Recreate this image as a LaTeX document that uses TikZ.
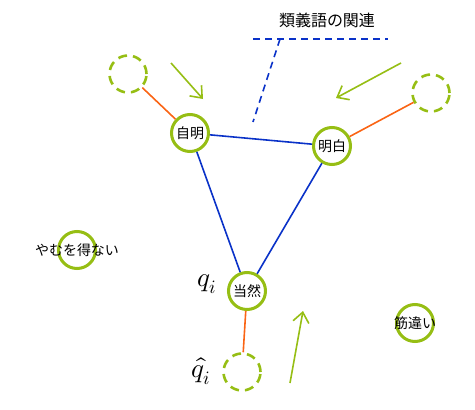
\documentclass[tikz,border=0pt]{standalone}
\usepackage{amsmath}
\usepackage{fontspec}
\usepackage{unicode-math}
\setmathfont{Latin Modern Math}
\newfontfamily\jpfont{Noto Sans CJK JP}
\usetikzlibrary{arrows.meta, positioning}

\definecolor{leaf}{RGB}{150,190,20}
\definecolor{synblue}{RGB}{10,50,200}
\definecolor{linkorange}{RGB}{250,100,20}

\begin{document}
\begin{tikzpicture}[
    x=1pt, y=-1pt,
    word/.style={circle, draw=leaf, line width=3pt, fill=white, minimum size=37pt, inner sep=0pt, font=\jpfont\fontsize{14}{16}\selectfont},
    ghost/.style={circle, draw=leaf, line width=2.6pt, dash pattern=on 9pt off 6pt, minimum size=37pt, inner sep=0pt},
    syn/.style={synblue, line width=1.6pt},
    link/.style={linkorange, line width=1.6pt},
    hint/.style={-{Straight Barb[length=10pt,width=16pt]}, leaf, line width=1.6pt},
    guide/.style={synblue, line width=1.6pt, dash pattern=on 7pt off 5pt},
    sym/.style={font=\fontsize{27}{30}\selectfont, inner sep=0pt}
]
\useasboundingbox (0,0) rectangle (475,410);

% 単語
\node[word] (jimei) at (190,133) {自明};
\node[word] (meihaku) at (332,146) {明白};
\node[word] (touzen) at (247,291) {当然};
\node[word, label={[font=\jpfont\fontsize{14}{16}\selectfont]center:やむを得ない}] (yamu) at (77,250) {};
\node[word, label={[font=\jpfont\fontsize{14}{16}\selectfont]center:筋違い}] (sujichigai) at (415,323) {};

% 推定位置
\node[ghost] (ghostA) at (128,74) {};
\node[ghost] (ghostB) at (431,93) {};
\node[ghost] (ghostQ) at (242,372) {};

% 類義語の関連
\draw[syn] (jimei) -- (meihaku);
\draw[syn] (jimei) -- (touzen);
\draw[syn] (meihaku) -- (touzen);

% ずれ
\draw[link] (ghostA) -- (jimei);
\draw[link] (meihaku) -- (ghostB);
\draw[link] (touzen) -- (ghostQ);

% 引き寄せ
\coordinate (h1s) at (171,63);
\coordinate (h1e) at (203,99);
\coordinate (h2s) at (401,63);
\coordinate (h2e) at (336,98);
\coordinate (h3s) at (290,383);
\coordinate (h3e) at (303,311);
\draw[hint] (h1s) -- (h1e);
\draw[hint] (h2s) -- (h2e);
\draw[hint] (h3s) -- (h3e);

% 見出し
\node[font=\jpfont\fontsize{16}{18}\selectfont] (title) at (327,20) {類義語の関連};
\coordinate (gl) at (253,39);
\coordinate (gr) at (388,39);
\coordinate (gk) at (280,39);
\coordinate (gt) at (253,122);
\draw[guide] (gl) -- (gr);
\draw[guide] (gk) -- (gt);

% 記号
\node[sym] (qlab) at (207,284) {$q_i$};
\node[sym] (qhatlab) at (201,371) {$\hat{q}_i$};

\end{tikzpicture}
\end{document}
